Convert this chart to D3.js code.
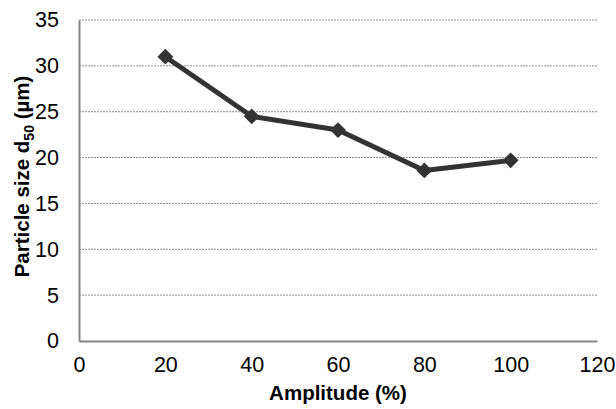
<!DOCTYPE html>
<html>
<head>
<meta charset="utf-8">
<script src="https://cdn.jsdelivr.net/npm/d3@7"></script>
<style>
  body { margin: 0; background: #fff; }
  text { font-family: "Liberation Sans", Arial, sans-serif; }
</style>
</head>
<body>
<div id="chart"></div>
<script>
// data
var amplitude = [20, 40, 60, 80, 100];
var d50 = [31, 24.5, 23, 18.6, 19.7];
var xTicks = [0, 20, 40, 60, 80, 100, 120];
var yTicks = [0, 5, 10, 15, 20, 25, 30, 35];

var width = 616, height = 409;
var margin = {top: 20, right: 19, bottom: 68, left: 79};

var svg = d3.select('#chart').append('svg')
	.attr('width', width)
	.attr('height', height);

var x = d3.scaleLinear().domain([0, 120]).range([margin.left, width - margin.right]);
var y = d3.scaleLinear().domain([0, 35]).range([height - margin.bottom, margin.top]);

// gridlines
svg.append('g').selectAll('line')
	.data(yTicks.filter(function(d) { return d > 0; }))
	.enter().append('line')
	.attr('x1', x(0)).attr('x2', x(120))
	.attr('y1', function(d) { return y(d); })
	.attr('y2', function(d) { return y(d); })
	.attr('stroke', '#8c8c8c')
	.attr('stroke-width', 1)
	.attr('stroke-dasharray', '2,1');

// axes
var xAxis = svg.append('g')
	.attr('transform', 'translate(0,' + y(0) + ')')
	.call(d3.axisBottom(x).tickValues(xTicks).tickSize(0).tickPadding(16));
var yAxis = svg.append('g')
	.attr('transform', 'translate(' + x(0) + ',0)')
	.call(d3.axisLeft(y).tickValues(yTicks).tickSize(0).tickPadding(20));

[xAxis, yAxis].forEach(function(a) {
	a.attr('font-size', null).attr('font-family', null);
	a.select('.domain').attr('stroke', '#868686').attr('stroke-width', 2);
	a.selectAll('text').style('font-size', '21.5px').attr('fill', '#000')
		.style('font-family', '"Liberation Sans", Arial, sans-serif');
});

// line
var line = d3.line()
	.x(function(d, i) { return x(amplitude[i]); })
	.y(function(d) { return y(d); });

svg.append('path')
	.datum(d50)
	.attr('d', line)
	.attr('fill', 'none')
	.attr('stroke', '#333333')
	.attr('stroke-width', 5)
	.attr('stroke-linejoin', 'round');

svg.append('g').selectAll('path')
	.data(d50)
	.enter().append('path')
	.attr('d', d3.symbol().type(d3.symbolDiamond2).size(160))
	.attr('transform', function(d, i) { return 'translate(' + x(amplitude[i]) + ',' + y(d) + ')'; })
	.attr('fill', '#333333');

// axis titles
svg.append('text')
	.attr('x', (x(0) + x(120)) / 2)
	.attr('y', 400)
	.attr('text-anchor', 'middle')
	.style('font-size', '20.5px')
	.attr('font-weight', 'bold')
	.text('Amplitude (%)');

var yt = svg.append('text')
	.attr('transform', 'translate(29,' + (y(17.5) - 4) + ') rotate(-90)')
	.attr('text-anchor', 'middle')
	.style('font-size', '20.5px')
	.attr('font-weight', 'bold');
yt.append('tspan').text('Particle size d');
yt.append('tspan').style('font-size', '14px').attr('dy', 5).text('50');
yt.append('tspan').attr('dy', -5).text(' (µm)');
</script>
</body>
</html>
